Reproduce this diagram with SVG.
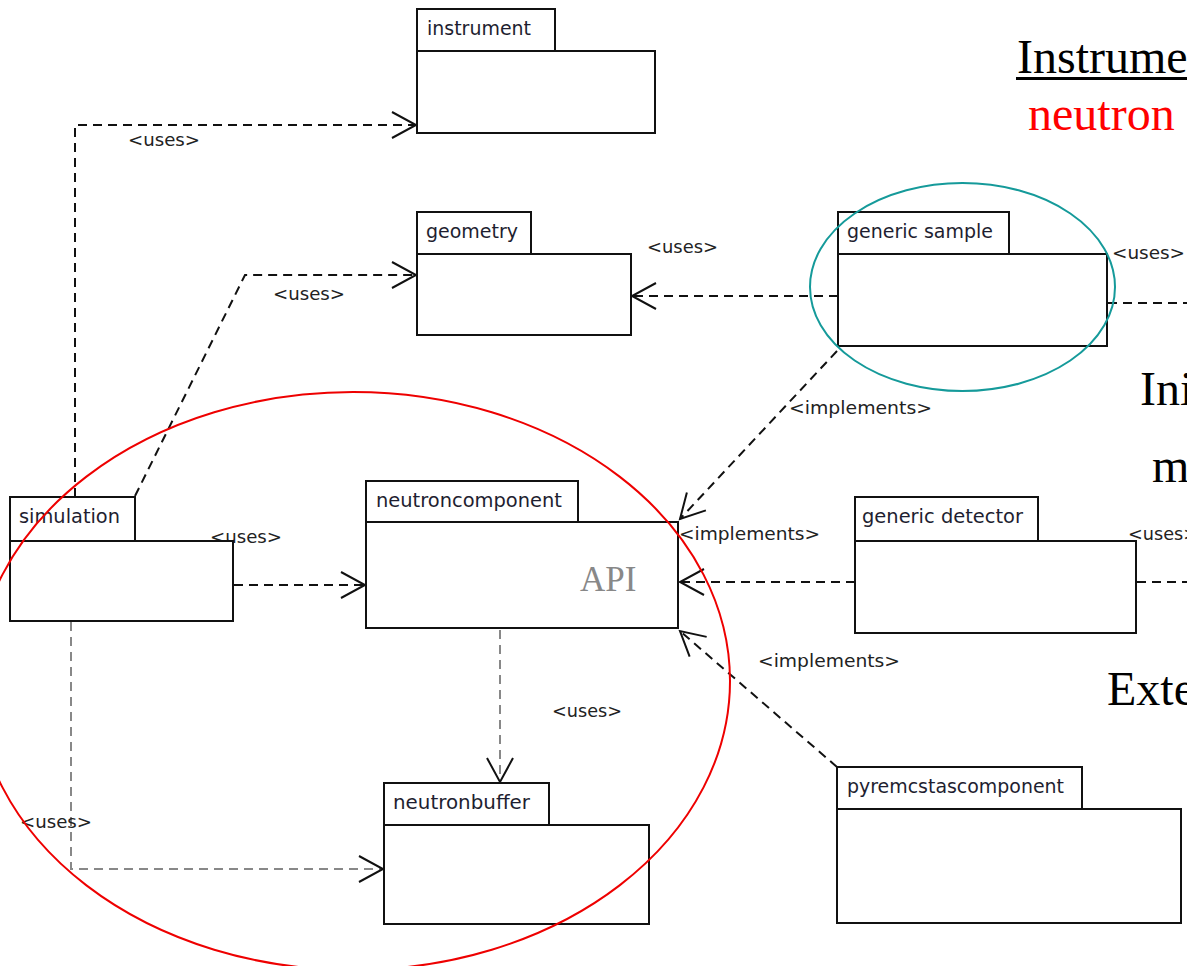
<svg xmlns="http://www.w3.org/2000/svg" width="1187" height="966" viewBox="0 0 1187 966">
<style>
.box{fill:#fff;stroke:#111;stroke-width:2}
.title{font-family:"DejaVu Sans",sans-serif;font-size:19px;fill:#1e1e30}
.lbl{font-family:"DejaVu Sans",sans-serif;font-size:18px;fill:#222}
.dash{fill:none;stroke:#111;stroke-width:2;stroke-dasharray:9 6}
.gdash{fill:none;stroke:#888;stroke-width:2;stroke-dasharray:9 6}
.big{font-family:"Liberation Serif","Times New Roman",serif;font-size:48px}
</style>
<defs>
<marker id="arr" markerUnits="userSpaceOnUse" markerWidth="40" markerHeight="40" viewBox="-30 -20 40 40" refX="0" refY="0" orient="auto">
<path d="M-24,-13 L0,0 L-24,13" fill="none" stroke="#111" stroke-width="2"/>
</marker>
</defs>
<rect x="0" y="0" width="1187" height="966" fill="#fff"/>

<g id="connectors">
<path class="dash" d="M75,497 L75,125 L416,125" marker-end="url(#arr)"/>
<text class="lbl" x="128" y="146" textLength="72" lengthAdjust="spacingAndGlyphs">&lt;uses&gt;</text>
<path class="dash" d="M135,496 L245,275 L416,275" marker-end="url(#arr)"/>
<text class="lbl" x="273" y="300" textLength="72" lengthAdjust="spacingAndGlyphs">&lt;uses&gt;</text>
<path class="dash" d="M838,296 L632,296" marker-end="url(#arr)"/>
<text class="lbl" x="647" y="253" textLength="71" lengthAdjust="spacingAndGlyphs">&lt;uses&gt;</text>
<path class="dash" d="M1108,303 L1187,303"/>
<text class="lbl" x="1112" y="259" textLength="73" lengthAdjust="spacingAndGlyphs">&lt;uses&gt;</text>
<path class="dash" d="M837,351 L680,519" marker-end="url(#arr)"/>
<text class="lbl" x="789" y="414" textLength="143" lengthAdjust="spacingAndGlyphs">&lt;implements&gt;</text>
<text class="lbl" x="679" y="540" textLength="141" lengthAdjust="spacingAndGlyphs">&lt;implements&gt;</text>
<path class="dash" d="M234,585 L365,585" marker-end="url(#arr)"/>
<text class="lbl" x="210" y="543" textLength="72" lengthAdjust="spacingAndGlyphs">&lt;uses&gt;</text>
<path class="dash" d="M855,582 L680,582" marker-end="url(#arr)"/>
<path class="dash" d="M1137,582 L1187,582"/>
<text class="lbl" x="1128" y="540" textLength="70" lengthAdjust="spacingAndGlyphs">&lt;uses&gt;</text>
<path class="dash" d="M837,767 L680,631" marker-end="url(#arr)"/>
<text class="lbl" x="758" y="667" textLength="142" lengthAdjust="spacingAndGlyphs">&lt;implements&gt;</text>
<path class="gdash" d="M500,630 L500,782" marker-end="url(#arr)"/>
<text class="lbl" x="552" y="717" textLength="70" lengthAdjust="spacingAndGlyphs">&lt;uses&gt;</text>
<path class="gdash" d="M71,622 L71,869 L383,869" marker-end="url(#arr)"/>
<text class="lbl" x="20" y="828" textLength="72" lengthAdjust="spacingAndGlyphs">&lt;uses&gt;</text>
</g>

<g id="instrument">
<rect class="box" x="417" y="9" width="138" height="42"/>
<rect class="box" x="417" y="51" width="238" height="82"/>
<text class="title" x="427" y="35" textLength="104" lengthAdjust="spacingAndGlyphs">instrument</text>
</g>
<g id="geometry">
<rect class="box" x="417" y="212" width="114" height="42"/>
<rect class="box" x="417" y="254" width="214" height="81"/>
<text class="title" x="426" y="238" textLength="92" lengthAdjust="spacingAndGlyphs">geometry</text>
</g>
<g id="generic-sample">
<rect class="box" x="838" y="212" width="171" height="42"/>
<rect class="box" x="838" y="254" width="269" height="92"/>
<text class="title" x="847" y="238" textLength="146" lengthAdjust="spacingAndGlyphs">generic sample</text>
</g>
<g id="simulation">
<rect class="box" x="10" y="497" width="125" height="44"/>
<rect class="box" x="10" y="541" width="223" height="80"/>
<text class="title" x="19" y="523" textLength="101" lengthAdjust="spacingAndGlyphs">simulation</text>
</g>
<g id="neutroncomponent">
<rect class="box" x="366" y="481" width="212" height="41"/>
<rect class="box" x="366" y="522" width="312" height="106"/>
<text class="title" x="376" y="507" textLength="186" lengthAdjust="spacingAndGlyphs">neutroncomponent</text>
<text x="580" y="591" font-family="Liberation Serif,serif" font-size="35" fill="#888">API</text>
</g>
<g id="generic-detector">
<rect class="box" x="855" y="497" width="183" height="44"/>
<rect class="box" x="855" y="541" width="281" height="92"/>
<text class="title" x="862" y="523" textLength="161" lengthAdjust="spacingAndGlyphs">generic detector</text>
</g>
<g id="neutronbuffer">
<rect class="box" x="384" y="783" width="165" height="42"/>
<rect class="box" x="384" y="825" width="265" height="99"/>
<text class="title" x="393" y="809" textLength="137" lengthAdjust="spacingAndGlyphs">neutronbuffer</text>
</g>
<g id="pyremcstascomponent">
<rect class="box" x="837" y="767" width="245" height="42"/>
<rect class="box" x="837" y="809" width="344" height="114"/>
<text class="title" x="847" y="793" textLength="217" lengthAdjust="spacingAndGlyphs">pyremcstascomponent</text>
</g>

<g id="highlights">
<ellipse cx="353" cy="681" rx="377" ry="289" fill="none" stroke="#e00" stroke-width="2"/>
<ellipse cx="962.5" cy="287" rx="152.5" ry="104" fill="none" stroke="#159a9a" stroke-width="2"/>
</g>

<g id="side-text">
<text class="big" x="1017" y="73" fill="#000">Instrume</text>
<rect x="1016" y="77" width="171" height="3" fill="#000"/>
<text class="big" x="1028" y="130" fill="#f00">neutron</text>
<text class="big" x="1140" y="405" fill="#000">Ini</text>
<text class="big" x="1152" y="482" fill="#000">m</text>
<text class="big" x="1107" y="705" fill="#000">Exte</text>
</g>
</svg>
